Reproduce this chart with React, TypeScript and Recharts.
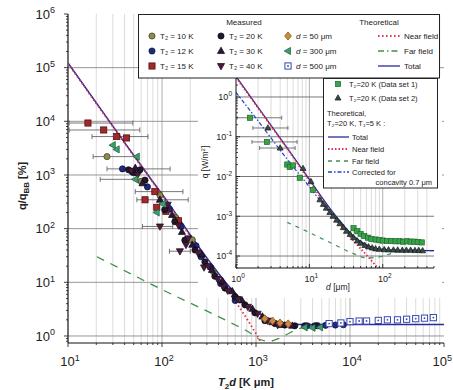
import React from 'react';
import { ComposedChart, Line, Scatter, XAxis, YAxis, ReferenceLine } from 'recharts';

const FONT = '"Liberation Sans", Arial, Helvetica, sans-serif';

type Pt = { x: number; y: number; xLo?: number; xHi?: number };

// ---------- axes ----------
const mainXDomain: [number, number] = [10, 100000];
const mainYDomain: [number, number] = [0.74, 1000000];
const insetXDomain: [number, number] = [1, 500];
const insetYDomain: [number, number] = [0.00005, 3];

// ---------- main chart: theory ----------
const mainTotal: Pt[] = [
  { x: 10, y: 122000 }, { x: 35.7, y: 5300 }, { x: 74.5, y: 890 }, { x: 122, y: 272 },
  { x: 198, y: 78 }, { x: 323, y: 24 }, { x: 528, y: 8.0 }, { x: 861, y: 3.5 },
  { x: 1243, y: 2.3 }, { x: 1795, y: 1.8 }, { x: 2930, y: 1.63 }, { x: 100000, y: 1.63 },
];
const mainNear: Pt[] = [
  { x: 10, y: 120000 }, { x: 35.7, y: 5200 }, { x: 74.5, y: 870 }, { x: 122, y: 262 },
  { x: 198, y: 73 }, { x: 323, y: 21 }, { x: 528, y: 6.2 }, { x: 700, y: 3.0 },
  { x: 861, y: 1.7 }, { x: 1000, y: 1.1 }, { x: 1150, y: 0.72 },
];
const mainFar: Pt[] = [
  { x: 20.3, y: 30 }, { x: 50, y: 13.5 }, { x: 102, y: 7.2 }, { x: 250, y: 3.4 },
  { x: 528, y: 1.8 }, { x: 861, y: 1.15 }, { x: 1100, y: 0.86 }, { x: 1400, y: 0.8 },
  { x: 1800, y: 0.92 }, { x: 2300, y: 1.15 }, { x: 3000, y: 1.4 }, { x: 4000, y: 1.58 },
];

// ---------- main chart: measured ----------
const t10: Pt[] = [
  { x: 26, y: 2200, xLo: 18.5, xHi: 55 }, { x: 60, y: 760 }, { x: 95, y: 420 }, { x: 140, y: 160 },
  { x: 210, y: 62 }, { x: 350, y: 16 },
];
const t12: Pt[] = [
  { x: 38, y: 1300, xLo: 26, xHi: 122 }, { x: 48, y: 1150 }, { x: 70, y: 600 }, { x: 120, y: 230 },
  { x: 160, y: 110 }, { x: 230, y: 48 }, { x: 260, y: 30 }, { x: 330, y: 19 }, { x: 420, y: 9.5 },
  { x: 600, y: 4.6 }, { x: 3500, y: 1.55 }, { x: 4500, y: 1.56 },
  { x: 5500, y: 1.58 }, { x: 7000, y: 1.6 }, { x: 8500, y: 1.62 },
];
const t15: Pt[] = [
  { x: 16.3, y: 9300, xLo: 10.3, xHi: 49 }, { x: 24, y: 6900, xLo: 10.3, xHi: 58 },
  { x: 33, y: 5200, xLo: 18, xHi: 71 }, { x: 42, y: 4900 }, { x: 84, y: 490, xLo: 52, xHi: 167 },
  { x: 66, y: 345, xLo: 54, xHi: 190 }, { x: 88, y: 250 }, { x: 110, y: 210 }, { x: 150, y: 140 },
];
const t20: Pt[] = [
  { x: 44, y: 1250 }, { x: 50, y: 1100 }, { x: 58.4, y: 1250 }, { x: 66, y: 800 }, { x: 107, y: 224 },
  { x: 137, y: 135 }, { x: 175, y: 61 }, { x: 224, y: 40 }, { x: 286, y: 24 }, { x: 365, y: 13 },
  { x: 467, y: 7.8 }, { x: 596, y: 5.4 }, { x: 762, y: 3.8 }, { x: 973, y: 2.7 }, { x: 1243, y: 1.93 },
  { x: 1588, y: 1.7 }, { x: 2030, y: 1.6 }, { x: 2590, y: 1.55 }, { x: 3300, y: 1.55 }, { x: 4230, y: 1.55 },
];
const t30: Pt[] = [
  { x: 52, y: 1350 }, { x: 62, y: 700 }, { x: 95, y: 345 }, { x: 128, y: 180 }, { x: 163, y: 87 },
  { x: 210, y: 50 }, { x: 265, y: 33 }, { x: 340, y: 17 }, { x: 440, y: 10.5 }, { x: 560, y: 6.8 },
  { x: 710, y: 4.6 }, { x: 915, y: 3.2 }, { x: 1170, y: 2.3 }, { x: 1490, y: 1.8 }, { x: 1900, y: 1.6 },
  { x: 2430, y: 1.55 },
];
const t40: Pt[] = [
  { x: 47, y: 1200 }, { x: 55, y: 1000 }, { x: 95, y: 110, xLo: 62, xHi: 130 }, { x: 115, y: 280 },
  { x: 150, y: 115 }, { x: 155, y: 38, xLo: 120, xHi: 200 }, { x: 180, y: 50 }, { x: 190, y: 66 },
  { x: 240, y: 36 }, { x: 280, y: 19 }, { x: 310, y: 20 }, { x: 390, y: 11.5 }, { x: 450, y: 8.2 },
  { x: 500, y: 7.0 }, { x: 640, y: 4.9 }, { x: 820, y: 3.5 },
  { x: 1040, y: 2.6 }, { x: 1330, y: 1.93 }, { x: 1700, y: 1.6 },
];
const d50: Pt[] = [
  { x: 1240, y: 2.1 }, { x: 1500, y: 1.9 }, { x: 1800, y: 1.75 }, { x: 2200, y: 1.68 },
];
const d300: Pt[] = [
  { x: 30, y: 3600 }, { x: 33, y: 3000 }, { x: 54, y: 2200 }, { x: 52, y: 830, xLo: 22, xHi: 63 },
  { x: 102, y: 290 }, { x: 88, y: 200 }, { x: 3300, y: 1.45 }, { x: 4000, y: 1.42 }, { x: 4800, y: 1.45 },
];
const d500: Pt[] = [
  { x: 6000, y: 1.7 }, { x: 8000, y: 1.75 }, { x: 10000, y: 1.85 }, { x: 12500, y: 1.9 },
  { x: 15000, y: 1.9 }, { x: 20000, y: 1.95 }, { x: 25000, y: 2.0 }, { x: 32000, y: 2.0 },
  { x: 40000, y: 2.05 }, { x: 50000, y: 2.1 }, { x: 62000, y: 2.15 }, { x: 77000, y: 2.2 },
];

// ---------- inset ----------
const insetTotal: Pt[] = [
  { x: 1, y: 3.3 }, { x: 2, y: 0.55 }, { x: 5, y: 0.052 }, { x: 10, y: 0.0085 }, { x: 15, y: 0.0029 },
  { x: 20, y: 0.0014 }, { x: 30, y: 0.00056 }, { x: 40, y: 0.00032 }, { x: 60, y: 0.00019 },
  { x: 80, y: 0.000155 }, { x: 120, y: 0.000142 }, { x: 200, y: 0.000138 }, { x: 500, y: 0.000136 },
];
const insetNear: Pt[] = [
  { x: 1, y: 3.1 }, { x: 2, y: 0.53 }, { x: 5, y: 0.05 }, { x: 10, y: 0.0078 }, { x: 20, y: 0.0012 },
  { x: 30, y: 0.00046 }, { x: 45, y: 0.00019 }, { x: 65, y: 0.00009 }, { x: 90, y: 0.000045 },
];
const insetFar: Pt[] = [
  { x: 5, y: 0.0007 }, { x: 10, y: 0.00039 }, { x: 20, y: 0.00021 }, { x: 40, y: 0.000115 },
  { x: 60, y: 0.00009 }, { x: 90, y: 0.000095 }, { x: 130, y: 0.000115 }, { x: 180, y: 0.00013 },
  { x: 250, y: 0.000136 },
];
const insetCorr: Pt[] = [
  { x: 1, y: 1.3 }, { x: 2, y: 0.25 }, { x: 5, y: 0.027 }, { x: 10, y: 0.0055 }, { x: 20, y: 0.0011 },
  { x: 40, y: 0.00029 }, { x: 80, y: 0.000155 }, { x: 500, y: 0.000136 },
];
const set1: Pt[] = [
  { x: 1.55, y: 0.3, xLo: 1.03, xHi: 4.2 }, { x: 2.64, y: 0.074, xLo: 1.65, xHi: 6.8 },
  { x: 5.0, y: 0.02 }, { x: 5.4, y: 0.0174 }, { x: 6.0, y: 0.019 }, { x: 7.4, y: 0.0093 }, { x: 11.2, y: 0.0046 },
  { x: 40, y: 0.0005 }, { x: 45, y: 0.00042 }, { x: 50, y: 0.00036 }, { x: 56, y: 0.00032 },
  { x: 63, y: 0.00029 }, { x: 70, y: 0.00027 }, { x: 80, y: 0.00026 }, { x: 90, y: 0.00025 },
  { x: 100, y: 0.000245 }, { x: 115, y: 0.00024 }, { x: 130, y: 0.00024 }, { x: 150, y: 0.000235 },
  { x: 170, y: 0.000235 }, { x: 190, y: 0.00023 }, { x: 215, y: 0.000235 }, { x: 240, y: 0.00023 },
  { x: 270, y: 0.00023 }, { x: 300, y: 0.000225 }, { x: 340, y: 0.00022 },
];
const set2: Pt[] = [
  { x: 2.72, y: 0.166, xLo: 1.7, xHi: 5.1 }, { x: 4.0, y: 0.052, xLo: 2.1, xHi: 6.4 },
  { x: 8.2, y: 0.016 }, { x: 10.5, y: 0.0075 }, { x: 13.9, y: 0.0026 }, { x: 15.5, y: 0.002 },
  { x: 17, y: 0.0016 }, { x: 19, y: 0.00125 }, { x: 21, y: 0.001 }, { x: 23.5, y: 0.0008 },
  { x: 26, y: 0.00065 }, { x: 29, y: 0.00052 }, { x: 32, y: 0.00042 }, { x: 36, y: 0.00035 },
  { x: 40, y: 0.00029 }, { x: 45, y: 0.00024 }, { x: 50, y: 0.00021 }, { x: 57, y: 0.000185 },
  { x: 64, y: 0.00017 }, { x: 72, y: 0.00016 }, { x: 80, y: 0.000152 }, { x: 90, y: 0.000148 },
  { x: 105, y: 0.000145 }, { x: 120, y: 0.000143 }, { x: 140, y: 0.000142 }, { x: 160, y: 0.000142 },
  { x: 185, y: 0.00014 }, { x: 210, y: 0.00014 }, { x: 240, y: 0.00014 }, { x: 275, y: 0.000138 },
  { x: 310, y: 0.000138 }, { x: 350, y: 0.000136 },
];

// ---------- helpers ----------
function logTicks(lo: number, hi: number): number[] {
  const out: number[] = [];
  for (let e = Math.floor(Math.log10(lo)); e <= Math.ceil(Math.log10(hi)); e++) {
    for (let m = 1; m <= 9; m++) {
      const v = Number((m * Math.pow(10, e)).toPrecision(6));
      if (v >= lo * 0.9999 && v <= hi * 1.0001) out.push(v);
    }
  }
  return out;
}
const isMajor = (v: number) => {
  const lg = Math.log10(v);
  return Math.abs(lg - Math.round(lg)) < 1e-6;
};

const mainXTicks = logTicks(mainXDomain[0], mainXDomain[1]);
const mainYTicks = logTicks(mainYDomain[0], mainYDomain[1]);
const insetXTicks = logTicks(insetXDomain[0], insetXDomain[1]);
const insetYTicks = logTicks(insetYDomain[0], insetYDomain[1]);

type TickCfg = { side: 'bottom' | 'top' | 'left' | 'right'; maj: number; min: number; dir: 1 | -1; label?: boolean; fs?: number; sfs?: number; off?: number; lastMax?: number };

function makeTick(cfg: TickCfg) {
  return (props: any) => {
    const { x, y, payload } = props;
    const v = payload.value;
    const major = isMajor(v);
    const len = (major ? cfg.maj : cfg.min) * cfg.dir;
    const exp = Math.round(Math.log10(v));
    const fs = cfg.fs || 12;
    const sfs = cfg.sfs || 8;
    let ln: React.ReactNode;
    let lab: React.ReactNode = null;
    if (cfg.side === 'bottom') {
      ln = <line x1={x} x2={x} y1={y} y2={y + len} stroke="#111" strokeWidth={0.8} />;
      if (cfg.label && major) {
        const atEnd = cfg.lastMax != null && Math.abs(v - cfg.lastMax) < 1e-9;
        lab = (
          <text x={atEnd ? x + 8 : x + 2} y={y + (cfg.off || 0)} textAnchor={atEnd ? 'end' : 'middle'} fontSize={fs} fill="#222" fontFamily={FONT}>
            10<tspan fontSize={sfs} dy={-fs * 0.42}>{exp}</tspan>
          </text>
        );
      }
    } else if (cfg.side === 'top') {
      ln = <line x1={x} x2={x} y1={y} y2={y - len} stroke="#111" strokeWidth={0.8} />;
    } else if (cfg.side === 'left') {
      ln = <line x1={x} x2={x - len} y1={y} y2={y} stroke="#111" strokeWidth={0.8} />;
      if (cfg.label && major)
        lab = (
          <text x={x - (cfg.off || 0)} y={y + fs * 0.36} textAnchor="end" fontSize={fs} fill="#222" fontFamily={FONT}>
            10<tspan fontSize={sfs} dy={-fs * 0.42}>{exp}</tspan>
          </text>
        );
    } else {
      ln = <line x1={x} x2={x + len} y1={y} y2={y} stroke="#111" strokeWidth={0.8} />;
    }
    return (
      <g>
        {ln}
        {lab}
      </g>
    );
  };
}

function Marker({ kind, cx, cy, r, fill, stroke }: any) {
  if (cx == null || cy == null) return null;
  const sw = 0.7;
  switch (kind) {
    case 'circle':
      return <circle cx={cx} cy={cy} r={r} fill={fill} stroke={stroke} strokeWidth={sw} />;
    case 'square':
      return <rect x={cx - r} y={cy - r} width={2 * r} height={2 * r} fill={fill} stroke={stroke} strokeWidth={sw} />;
    case 'up':
      return <polygon points={`${cx},${cy - r * 1.25} ${cx - r * 1.15},${cy + r * 0.8} ${cx + r * 1.15},${cy + r * 0.8}`} fill={fill} stroke={stroke} strokeWidth={sw} />;
    case 'down':
      return <polygon points={`${cx},${cy + r * 1.25} ${cx - r * 1.15},${cy - r * 0.8} ${cx + r * 1.15},${cy - r * 0.8}`} fill={fill} stroke={stroke} strokeWidth={sw} />;
    case 'left':
      return <polygon points={`${cx - r * 1.25},${cy} ${cx + r * 0.8},${cy - r * 1.15} ${cx + r * 0.8},${cy + r * 1.15}`} fill={fill} stroke={stroke} strokeWidth={sw} />;
    case 'diamond':
      return <polygon points={`${cx},${cy - r * 1.3} ${cx + r * 1.1},${cy} ${cx},${cy + r * 1.3} ${cx - r * 1.1},${cy}`} fill={fill} stroke={stroke} strokeWidth={sw} />;
    case 'opensq':
      return (
        <g>
          <rect x={cx - r} y={cy - r} width={2 * r} height={2 * r} fill="#fff" stroke={stroke} strokeWidth={1} />
          <circle cx={cx} cy={cy} r={0.9} fill={stroke} />
        </g>
      );
    default:
      return null;
  }
}

const shapeOf = (kind: string, fill: string, stroke: string, r: number) => (p: any) => (
  <Marker kind={kind} cx={p.cx} cy={p.cy} r={r} fill={fill} stroke={stroke} />
);

const hasErr = (d: Pt) => d.xLo != null && d.xHi != null;

type SeriesDef = { name: string; data: Pt[]; kind: string; fill: string; stroke: string };
const mainSeries: SeriesDef[] = [
  { name: 'T₂ = 10 K', data: t10, kind: 'circle', fill: '#8c8a4c', stroke: '#3a3a1a' },
  { name: 'T₂ = 12 K', data: t12, kind: 'circle', fill: '#1f2a78', stroke: '#0a0f3a' },
  { name: 'T₂ = 15 K', data: t15, kind: 'square', fill: '#a3282a', stroke: '#4a0a0a' },
  { name: 'T₂ = 20 K', data: t20, kind: 'circle', fill: '#221630', stroke: '#0a0a0a' },
  { name: 'T₂ = 30 K', data: t30, kind: 'up', fill: '#2e1440', stroke: '#0a0a0a' },
  { name: 'T₂ = 40 K', data: t40, kind: 'down', fill: '#4a1a3e', stroke: '#1a0a14' },
  { name: 'd = 50 μm', data: d50, kind: 'diamond', fill: '#d08a3a', stroke: '#7a4a1a' },
  { name: 'd = 300 μm', data: d300, kind: 'left', fill: '#3aa070', stroke: '#1a5a3a' },
  { name: 'd = 500 μm', data: d500, kind: 'opensq', fill: '#fff', stroke: '#3a48b0' },
];
const insetSeries: SeriesDef[] = [
  { name: 'T₂=20 K (Data set 1)', data: set1, kind: 'square', fill: '#3aa34a', stroke: '#1a6a2a' },
  { name: 'T₂=20 K (Data set 2)', data: set2, kind: 'up', fill: '#3a4a44', stroke: '#141e1a' },
];

const C_TOTAL = '#2b2b9a';
const C_NEAR = '#e0304a';
const C_FAR = '#3f8f4f';
const C_CORR = '#2040d0';

const capDot = (h: number) => (p: any) =>
  p.cx == null ? <g key={p.key} /> : (
    <line key={p.key} x1={p.cx} x2={p.cx} y1={p.cy - h} y2={p.cy + h} stroke="#555" strokeWidth={0.8} />
  );

function renderErrorBars(list: SeriesDef[], h: number) {
  const out: React.ReactNode[] = [];
  list.forEach((s) => {
    s.data.filter(hasErr).forEach((d, i) => {
      out.push(
        <Line key={s.name + 'eb' + i} data={[{ x: d.xLo, y: d.y }, { x: d.xHi, y: d.y }]} dataKey="y" type="linear"
          stroke="#555" strokeWidth={0.8} dot={capDot(h)} activeDot={false} isAnimationActive={false} />
      );
    });
  });
  return out;
}

function renderSeries(list: SeriesDef[], r: number) {
  return list.map((s) => (
    <Scatter key={s.name} data={s.data} isAnimationActive={false} shape={shapeOf(s.kind, s.fill, s.stroke, r)} />
  ));
}

export default function App() {
  const mainX = mainXTicks.filter((v) => v > mainXDomain[0] && v < mainXDomain[1]);
  const mainYMaj = mainYTicks.filter((v) => isMajor(v) && v < mainYDomain[1]);
  const inX = insetXTicks.filter((v) => v > insetXDomain[0] && v < insetXDomain[1]);
  const inYMaj = insetYTicks.filter((v) => isMajor(v));

  const mr = 3.1;
  const legendRows = [
    [mainSeries[0], mainSeries[3], mainSeries[6]],
    [mainSeries[1], mainSeries[4], mainSeries[7]],
    [mainSeries[2], mainSeries[5], mainSeries[8]],
  ];
  const colX = [152, 221, 288];
  const rowY = [36, 51, 66];
  const theo = [
    { name: 'Near field', stroke: C_NEAR, dash: '1.5 2.5', w: 2 },
    { name: 'Far field', stroke: C_FAR, dash: '6 3 1.5 3', w: 1.3 },
    { name: 'Total', stroke: C_TOTAL, dash: undefined, w: 1.3 },
  ];
  const insetTheo = [
    { name: 'Total', stroke: C_TOTAL, dash: undefined, w: 1.3, y: 137 },
    { name: 'Near field', stroke: C_NEAR, dash: '1.5 2', w: 2, y: 149 },
    { name: 'Far field', stroke: C_FAR, dash: '4 4', w: 1.3, y: 161 },
    { name: 'Corrected for', stroke: C_CORR, dash: '4 2 1.5 2', w: 1.3, y: 172 },
  ];

  return (
    <div style={{ position: 'absolute', left: 0, top: 0, width: 453, height: 390, background: '#fff', fontFamily: FONT }}>
      {/* main frame, axes and grid */}
      <div style={{ position: 'absolute', left: 0, top: 0 }}>
        <ComposedChart width={453} height={390} margin={{ top: 14, right: 9, bottom: 17, left: 0 }}>
          <XAxis xAxisId={0} dataKey="x" type="number" scale="log" domain={mainXDomain} allowDataOverflow ticks={mainXTicks} interval={0}
            tickSize={0} tickMargin={0} tickLine={false} height={30} axisLine={{ stroke: '#111', strokeWidth: 1.2 }}
            tick={makeTick({ side: 'bottom', maj: 4, min: 2, dir: 1, label: true, fs: 13, sfs: 9, off: 23, lastMax: mainXDomain[1] })} />
          <XAxis xAxisId="top" orientation="top" type="number" scale="log" domain={mainXDomain} allowDataOverflow ticks={mainXTicks} interval={0}
            tickSize={0} tickMargin={0} tickLine={false} height={0} axisLine={{ stroke: '#111', strokeWidth: 1.2 }}
            tick={makeTick({ side: 'top', maj: 4, min: 2, dir: 1 })} />
          <YAxis yAxisId={0} dataKey="y" type="number" scale="log" domain={mainYDomain} allowDataOverflow ticks={mainYTicks} interval={0}
            tickSize={0} tickMargin={0} tickLine={false} width={68} axisLine={{ stroke: '#111', strokeWidth: 1.2 }}
            tick={makeTick({ side: 'left', maj: 4, min: 2, dir: 1, label: true, fs: 13, sfs: 9, off: 13 })} />
          <YAxis yAxisId="right" orientation="right" type="number" scale="log" domain={mainYDomain} allowDataOverflow ticks={mainYTicks} interval={0}
            tickSize={0} tickMargin={0} tickLine={false} width={0} axisLine={{ stroke: '#111', strokeWidth: 1.2 }}
            tick={makeTick({ side: 'right', maj: 4, min: 2, dir: -1 })} />
          {mainX.map((v) => (
            <ReferenceLine key={'mx' + v} x={v} stroke={isMajor(v) ? '#9a9a9a' : '#d2d2d2'} strokeWidth={0.8} />
          ))}
          {mainYMaj.map((v) => (
            <ReferenceLine key={'my' + v} y={v} stroke="#8a8a8a" strokeWidth={0.9} />
          ))}
        </ComposedChart>
      </div>

      {/* inset */}
      <div style={{ position: 'absolute', left: 198, top: 76, width: 244, height: 222, background: '#fff' }}>
        <ComposedChart width={244} height={222} margin={{ top: 2, right: 8, bottom: 0, left: 0 }}>
          <XAxis xAxisId={0} dataKey="x" type="number" scale="log" domain={insetXDomain} allowDataOverflow ticks={insetXTicks} interval={0}
            tickSize={0} tickMargin={0} tickLine={false} height={30} axisLine={{ stroke: '#111', strokeWidth: 1 }}
            tick={makeTick({ side: 'bottom', maj: -4, min: -2, dir: 1, label: true, fs: 9, sfs: 6.5, off: 14 })} />
          <XAxis xAxisId="top" orientation="top" type="number" scale="log" domain={insetXDomain} allowDataOverflow ticks={insetXTicks} interval={0}
            tickSize={0} tickMargin={0} tickLine={false} height={0} axisLine={{ stroke: '#111', strokeWidth: 1 }}
            tick={makeTick({ side: 'top', maj: -4, min: -2, dir: 1 })} />
          <YAxis yAxisId={0} dataKey="y" type="number" scale="log" domain={insetYDomain} allowDataOverflow ticks={insetYTicks} interval={0}
            tickSize={0} tickMargin={0} tickLine={false} width={38} axisLine={{ stroke: '#111', strokeWidth: 1 }}
            tick={makeTick({ side: 'left', maj: -4, min: -2, dir: 1, label: true, fs: 9, sfs: 6.5, off: 4 })} />
          <YAxis yAxisId="right" orientation="right" type="number" scale="log" domain={insetYDomain} allowDataOverflow ticks={insetYTicks} interval={0}
            tickSize={0} tickMargin={0} tickLine={false} width={0} axisLine={{ stroke: '#111', strokeWidth: 1 }}
            tick={makeTick({ side: 'right', maj: 4, min: 2, dir: -1 })} />
          {inX.map((v) => (
            <ReferenceLine key={'ix' + v} x={v} stroke={isMajor(v) ? '#9a9a9a' : '#d2d2d2'} strokeWidth={0.8} />
          ))}
          {inYMaj.map((v) => (
            <ReferenceLine key={'iy' + v} y={v} stroke="#6a6a6a" strokeWidth={0.9} />
          ))}
          <Line data={insetFar} dataKey="y" type="monotone" stroke={C_FAR} strokeWidth={1.2} strokeDasharray="4 5" dot={false} activeDot={false} isAnimationActive={false} />
          {renderErrorBars(insetSeries, 2)}
          {renderSeries(insetSeries, 2.6)}
          <Line data={insetCorr} dataKey="y" type="monotone" stroke={C_CORR} strokeWidth={1.2} strokeDasharray="4 2 1.5 2" dot={false} activeDot={false} isAnimationActive={false} />
          <Line data={insetTotal} dataKey="y" type="monotone" stroke={C_TOTAL} strokeWidth={1.3} dot={false} activeDot={false} isAnimationActive={false} />
          <Line data={insetNear} dataKey="y" type="monotone" stroke={C_NEAR} strokeWidth={1.8} strokeDasharray="1.5 2" dot={false} activeDot={false} isAnimationActive={false} />
        </ComposedChart>
      </div>

      {/* main data layer, on top of the inset background */}
      <div style={{ position: 'absolute', left: 0, top: 0, pointerEvents: 'none' }}>
        <ComposedChart width={453} height={390} margin={{ top: 14, right: 9, bottom: 47, left: 68 }}>
          <XAxis xAxisId={0} dataKey="x" type="number" scale="log" domain={mainXDomain} allowDataOverflow hide />
          <YAxis yAxisId={0} dataKey="y" type="number" scale="log" domain={mainYDomain} allowDataOverflow hide />
          {renderErrorBars(mainSeries, 2.5)}
          {renderSeries(mainSeries, mr)}
          <Line data={mainFar} dataKey="y" type="monotone" stroke={C_FAR} strokeWidth={1.3} strokeDasharray="8 7" dot={false} activeDot={false} isAnimationActive={false} />
          <Line data={mainTotal} dataKey="y" type="monotone" stroke={C_TOTAL} strokeWidth={1.5} dot={false} activeDot={false} isAnimationActive={false} />
          <Line data={mainNear} dataKey="y" type="monotone" stroke={C_NEAR} strokeWidth={1.8} strokeDasharray="1.5 2.5" dot={false} activeDot={false} isAnimationActive={false} />
        </ComposedChart>
      </div>

      <svg width={453} height={390} style={{ position: 'absolute', left: 0, top: 0, pointerEvents: 'none' }} fontFamily={FONT}>
        {/* main legend */}
        <rect x={138.5} y={14.5} width={301} height={63.5} fill="#fff" stroke="#222" strokeWidth={1} />
        <text x={244} y={25} textAnchor="middle" fontSize={8} fill="#222">Measured</text>
        <text x={379} y={25} textAnchor="middle" fontSize={8} fill="#222">Theoretical</text>
        {legendRows.map((row, ri) =>
          row.map((s, ci) => (
            <g key={s.name}>
              <Marker kind={s.kind} cx={colX[ci]} cy={rowY[ri]} r={mr} fill={s.fill} stroke={s.stroke} />
              <text x={colX[ci] + 8} y={rowY[ri] + 3} fontSize={8} fill="#222">
                {ci === 2 ? (
                  <>
                    <tspan fontStyle="italic">d</tspan>
                    {s.name.slice(1)}
                  </>
                ) : (
                  s.name
                )}
              </text>
            </g>
          ))
        )}
        {theo.map((t, i) => (
          <g key={t.name}>
            <line x1={378} x2={400} y1={rowY[i]} y2={rowY[i]} stroke={t.stroke} strokeWidth={t.w} strokeDasharray={t.dash} />
            <text x={404} y={rowY[i] + 3} fontSize={8} fill="#222">{t.name}</text>
          </g>
        ))}

        {/* inset legend */}
        <rect x={323.5} y={78.5} width={114} height={109.5} fill="#fff" stroke="#222" strokeWidth={1} />
        {insetSeries.map((s, i) => (
          <g key={s.name}>
            <Marker kind={s.kind} cx={338} cy={84 + i * 14} r={2.6} fill={s.fill} stroke={s.stroke} />
            <text x={349} y={87 + i * 14} fontSize={7.5} fill="#222">{s.name}</text>
          </g>
        ))}
        <text x={327} y={116} fontSize={7.5} fill="#222">Theoretical,</text>
        <text x={327} y={126} fontSize={7.5} fill="#222">T₂=20 K, T₁=5 K :</text>
        {insetTheo.map((t) => (
          <g key={t.name}>
            <line x1={328} x2={349} y1={t.y} y2={t.y} stroke={t.stroke} strokeWidth={t.w} strokeDasharray={t.dash} />
            <text x={352} y={t.y + 3} fontSize={7.5} fill="#222">{t.name}</text>
          </g>
        ))}
        <text x={432} y={185} textAnchor="end" fontSize={7.5} fill="#222">concavity 0.7 μm</text>

        {/* axis titles */}
        <text transform="translate(26,186) rotate(-90)" textAnchor="middle" fontSize={11} fontWeight="bold" fill="#222">
          q/q<tspan dy={2.5} fontSize={8}>BB</tspan>
          <tspan dy={-2.5}> [%]</tspan>
        </text>
        <text x={246} y={386} textAnchor="middle" fontSize={11} fontWeight="bold" fill="#222">
          <tspan fontStyle="italic">T</tspan>
          <tspan dy={2.5} fontSize={8}>2</tspan>
          <tspan dy={-2.5} fontStyle="italic">d</tspan> [K μm]
        </text>
        <text transform="translate(208,162) rotate(-90)" textAnchor="middle" fontSize={8.5} fill="#222">
          q [W/m<tspan dy={-3} fontSize={6}>2</tspan>
          <tspan dy={3}>]</tspan>
        </text>
        <text x={338} y={290} textAnchor="middle" fontSize={8.5} fill="#222">
          <tspan fontStyle="italic">d</tspan> [μm]
        </text>
      </svg>
    </div>
  );
}
